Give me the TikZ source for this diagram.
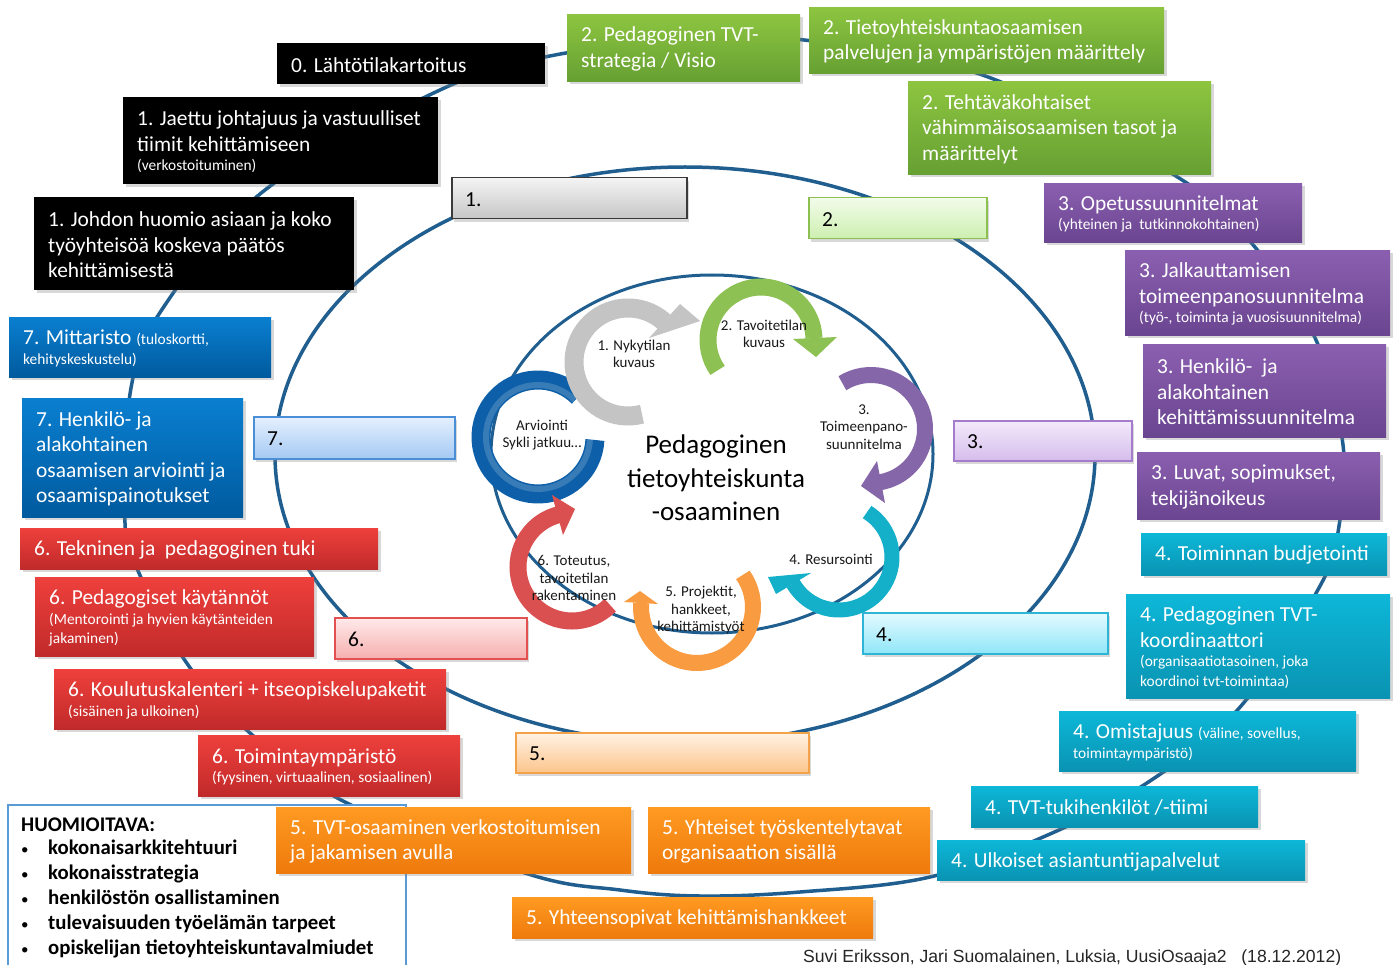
\documentclass[tikz,border=0pt]{standalone}
\usepackage{fontspec}
\setmainfont{Carlito}
\newfontfamily\footfont{Liberation Sans}
\usetikzlibrary{shadows,calc}
\definecolor{crv}{HTML}{1F5E8E}
\definecolor{grT}{HTML}{8DC540}\definecolor{grB}{HTML}{66A032}
\definecolor{puT}{HTML}{8B5FB0}\definecolor{puB}{HTML}{6A4590}
\definecolor{teT}{HTML}{0DB7D8}\definecolor{teB}{HTML}{0A93B2}
\definecolor{orT}{HTML}{FF9A22}\definecolor{orB}{HTML}{EE7A0C}
\definecolor{reT}{HTML}{EE403C}\definecolor{reB}{HTML}{C02A2A}
\definecolor{blT}{HTML}{0A7FD0}\definecolor{blB}{HTML}{005A9E}
\definecolor{cgray}{HTML}{C4C4C4}
\definecolor{cgreen}{HTML}{8DC153}
\definecolor{cpurple}{HTML}{8566A8}
\definecolor{cteal}{HTML}{14AFC8}
\definecolor{corange}{HTML}{F99B40}
\definecolor{cred}{HTML}{DA4F4F}
\definecolor{cblue}{HTML}{0C5FA8}
\newcommand\smallf{\fontsize{15.4}{18}\selectfont}
\newcommand\bul{\makebox[27pt][l]{\normalfont\fontsize{15}{15}\selectfont\raisebox{0.5pt}{•}}}
\newcommand\mkbox[8][white]{%
  \node[boxbase,#7,minimum width=#5pt,minimum height=#6pt] (#2) at (#3,#4) {};
  \node[boxtext,text=#1,anchor=west] (#2t) at ([xshift=14pt,yshift=-1.2pt]#2.west) {#8};}
\begin{document}
\begin{tikzpicture}[x=1pt,y=-1pt,
  boxbase/.style={anchor=north west, inner sep=0pt},
  shd/.style={drop shadow={opacity=0.3,shadow xshift=2.5pt,shadow yshift=-3pt}},
  boxtext/.style={inner sep=0pt, align=left, font=\fontsize{21.4}{25.5}\selectfont},
  blackbox/.style={fill=black, shd},
  greenbox/.style={top color=grT, bottom color=grB, shd},
  purplebox/.style={top color=puT, bottom color=puB, shd},
  tealbox/.style={top color=teT, bottom color=teB, shd},
  orangebox/.style={top color=orT, bottom color=orB, shd},
  redbox/.style={top color=reT, bottom color=reB, shd},
  bluebox/.style={top color=blT, bottom color=blB, shd},
  lbox/.style={line width=1.5pt, shd},
  lgray/.style={lbox, top color={rgb,255:red,244;green,244;blue,244}, bottom color={rgb,255:red,198;green,198;blue,198}, draw={rgb,255:red,58;green,58;blue,58}},
  lgreen/.style={lbox, top color={rgb,255:red,242;green,252;blue,234}, bottom color={rgb,255:red,205;green,239;blue,176}, draw={rgb,255:red,140;green,193;blue,82}},
  lpurple/.style={lbox, top color={rgb,255:red,243;green,234;blue,251}, bottom color={rgb,255:red,214;green,189;blue,236}, draw={rgb,255:red,165;green,124;blue,203}},
  lteal/.style={lbox, top color={rgb,255:red,228;green,250;blue,255}, bottom color={rgb,255:red,143;green,230;blue,248}, draw={rgb,255:red,46;green,181;blue,214}},
  lorange/.style={lbox, top color={rgb,255:red,255;green,242;blue,228}, bottom color={rgb,255:red,252;green,197;blue,140}, draw={rgb,255:red,244;green,162;blue,74}},
  lred/.style={lbox, top color={rgb,255:red,255;green,234;blue,234}, bottom color={rgb,255:red,246;green,175;blue,175}, draw={rgb,255:red,226;green,80;blue,79}},
  lblue/.style={lbox, top color={rgb,255:red,230;green,240;blue,255}, bottom color={rgb,255:red,164;green,201;blue,243}, draw={rgb,255:red,74;green,143;blue,214}},
  cyclab/.style={inner sep=0pt, align=center, text={rgb,255:red,25;green,25;blue,25}, font=\fontsize{15}{17.5}\selectfont},
]
\useasboundingbox (0,0) rectangle (1394,965);
\fill[white] (0,0) rectangle (1394,965);

% ---- curves ----
\draw[crv, line width=3.5pt] plot[smooth cycle, tension=0.6] coordinates {
 (680,43) (804,40) (988,77) (1179,178) (1254,246) (1316,340) (1343,445) (1339,526)
 (1320,586) (1241,706) (1153,779) (1050,834) (930,877) (800,892) (700,896) (620,890)
 (525,873) (345,802) (250,733) (186,662) (139,573) (125,523) (131,388) (165,305)
 (265,190) (440,90) (555,55)};
\draw[crv, line width=3.5pt] (685,455) ellipse[x radius=410, y radius=288];
\draw[crv, line width=3pt] (712,454) ellipse[x radius=221, y radius=179];

% ---- cycle arrows ----
\coordinate (cbl) at (538,437);
\coordinate (cg) at (628,362);
\coordinate (cgr) at (761,340);
\coordinate (cpu) at (871,429);
\coordinate (cte) at (839,557);
\coordinate (cor) at (697,607);
\coordinate (cre) at (572,567);
\draw[line width=19pt, cblue] ($(cbl)+(3:57)$) arc[start angle=3, end angle=315, radius=57];
\draw[line width=6pt, white, opacity=0.18] ($(cbl)+(3:52)$) arc[start angle=3, end angle=315, radius=52];
\draw[line width=19pt, cgray] ($(cg)+(75:54)$) arc[start angle=75, end angle=312, radius=54];
\fill[cgray] (680,304) -- (700,321) -- (649,338) -- cycle;
\draw[line width=17pt, cgreen] ($(cgr)+(145:53)$) arc[start angle=145, end angle=358, radius=53];
\fill[cgreen] (837,337) -- (816,357) -- (793,339) -- cycle;
\draw[line width=16pt, cpurple] ($(cpu)+(238:54)$) arc[start angle=238, end angle=440, radius=54];
\fill[cpurple] (885,503) -- (861,486) -- (877,461) -- cycle;
\draw[line width=15pt, cteal] ($(cte)+(302:53)$) arc[start angle=302, end angle=510, radius=53];
\fill[cteal] (776,594) -- (768,577) -- (811,573) -- cycle;
\draw[line width=16pt, corange] ($(cor)+(325:56)$) arc[start angle=325, end angle=544, radius=56];
\fill[corange] (624,602) -- (640,591) -- (658,604) -- cycle;
\draw[line width=17pt, cred] ($(cre)+(45:54)$) arc[start angle=45, end angle=255, radius=54];
\fill[cred] (552,495) -- (575,509) -- (563,535) -- cycle;

% ---- cycle labels ----
\node[cyclab] (c1) at (634,354) {1. Nykytilan\\kuvaus};
\node[cyclab] (c2) at (764,334) {2. Tavoitetilan\\kuvaus};
\node[cyclab] (c3) at (864,427) {3.\\Toimeenpano-\\suunnitelma};
\node[cyclab] (c4) at (831,559) {4. Resursointi};
\node[cyclab] (c5) at (701,610) {5. Projektit,\\hankkeet,\\kehittämistyöt};
\node[cyclab] (c6) at (574,578) {6. Toteutus,\\tavoitetilan\\rakentaminen};
\node[cyclab] (c7) at (542,435) {Arviointi\\Sykli jatkuu…};
\node[inner sep=0pt, align=center, font=\fontsize{27}{33.5}\selectfont] (center) at (716,478) {Pedagoginen\\tietoyhteiskunta\\-osaaminen};

% ---- light boxes ----
\mkbox[black]{lb1}{451}{177}{235}{41}{lgray}{1.}
\mkbox[black]{lb2}{808}{197}{178}{41}{lgreen}{2.}
\mkbox[black]{lb3}{953}{420}{178}{40}{lpurple}{3.}
\mkbox[black]{lb4}{862}{612}{245}{41}{lteal}{4.}
\mkbox[black]{lb5}{515}{732}{293}{40}{lorange}{5.}
\mkbox[black]{lb6}{334}{617}{192}{41}{lred}{6.}
\mkbox[black]{lb7}{253}{416}{201}{42}{lblue}{7.}

% ---- black ----
\mkbox{b0}{277}{43}{268}{41}{blackbox}{0. Lähtötilakartoitus}
\mkbox{b1}{123}{97}{315}{87}{blackbox}{1. Jaettu johtajuus ja vastuulliset\\tiimit kehittämiseen\\[-6pt]\smallf(verkostoituminen)}
\mkbox{b2}{34}{197}{320}{93}{blackbox}{1. Johdon huomio asiaan ja koko\\työyhteisöä koskeva päätös\\kehittämisestä}

% ---- green ----
\mkbox{g1}{567}{14}{233}{67}{greenbox}{2. Pedagoginen TVT-\\strategia / Visio}
\mkbox{g2}{809}{7}{355}{66}{greenbox}{2. Tietoyhteiskuntaosaamisen\\palvelujen ja ympäristöjen määrittely}
\mkbox{g3}{908}{81}{303}{93}{greenbox}{2. Tehtäväkohtaiset\\vähimmäisosaamisen tasot ja\\määrittelyt}

% ---- purple ----
\mkbox{p1}{1044}{183}{258}{59}{purplebox}{3. Opetussuunnitelmat\\[-6pt]\smallf(yhteinen ja\ \ tutkinnokohtainen)}
\mkbox{p2}{1125}{250}{265}{85}{purplebox}{3. Jalkauttamisen\\toimeenpanosuunnitelma\\[-6pt]\smallf(työ-, toiminta ja vuosisuunnitelma)}
\mkbox{p3}{1143}{344}{243}{93}{purplebox}{3. Henkilö-\ \ ja\\alakohtainen\\kehittämissuunnitelma}
\mkbox{p4}{1137}{452}{243}{67}{purplebox}{3. Luvat, sopimukset,\\tekijänoikeus}

% ---- teal ----
\mkbox{t1}{1141}{533}{246}{42}{tealbox}{4. Toiminnan budjetointi}
\mkbox{t2}{1126}{594}{264}{104}{tealbox}{4. Pedagoginen TVT-\\koordinaattori\\[-6pt]\smallf(organisaatiotasoinen, joka\\[-6pt]\smallf koordinoi tvt-toimintaa)}
\mkbox{t3}{1059}{711}{297}{60}{tealbox}{4. Omistajuus {\smallf(väline, sovellus,}\\[-6pt]\smallf toimintaympäristö)}
\mkbox{t4}{971}{786}{287}{41}{tealbox}{4. TVT-tukihenkilöt /-tiimi}
\mkbox{t5}{937}{840}{368}{40}{tealbox}{4. Ulkoiset asiantuntijapalvelut}

% ---- red ----
\mkbox{r1}{20}{528}{358}{41}{redbox}{6. Tekninen ja\ \ pedagoginen tuki}
\mkbox{r2}{35}{577}{279}{79}{redbox}{6. Pedagogiset käytännöt\\[-6pt]\smallf(Mentorointi ja hyvien käytänteiden\\[-6pt]\smallf jakaminen)}
\mkbox{r3}{54}{669}{392}{60}{redbox}{6. Koulutuskalenteri + itseopiskelupaketit\\[-6pt]\smallf(sisäinen ja ulkoinen)}
\mkbox{r4}{198}{735}{262}{61}{redbox}{6. Toimintaympäristö\\[-6pt]\smallf(fyysinen, virtuaalinen, sosiaalinen)}

% ---- blue ----
\mkbox{bl1}{9}{317}{262}{60}{bluebox}{7. Mittaristo {\smallf(tuloskortti,}\\[-6pt]\smallf kehityskeskustelu)}
\mkbox{bl2}{22}{398}{221}{119}{bluebox}{7. Henkilö- ja\\alakohtainen\\osaamisen arviointi ja\\osaamispainotukset}

% ---- HUOMIOITAVA ----
\node[anchor=north west, inner sep=0pt, minimum width=398pt, minimum height=175pt, fill=white, draw={rgb,255:red,91;green,155;blue,213}, line width=1.5pt] (huom) at (7,804) {};
\node[anchor=north west, inner sep=0pt, align=left, font=\bfseries\fontsize{20.8}{25}\selectfont] (huomt) at (21,818) {HUOMIOITAVA:\\[-2pt]
\bul kokonaisarkkitehtuuri\\
\bul kokonaisstrategia\\
\bul henkilöstön osallistaminen\\
\bul tulevaisuuden työelämän tarpeet\\
\bul opiskelijan tietoyhteiskuntavalmiudet};

% ---- orange ----
\mkbox{o1}{276}{807}{355}{66}{orangebox}{5. TVT-osaaminen verkostoitumisen\\ja jakamisen avulla}
\mkbox{o2}{648}{807}{282}{66}{orangebox}{5. Yhteiset työskentelytavat\\organisaation sisällä}
\mkbox{o3}{512}{897}{361}{41}{orangebox}{5. Yhteensopivat kehittämishankkeet}

% ---- footer ----
\node[anchor=base west, inner sep=0pt, font=\footfont\fontsize{17.6}{20}\selectfont, text=black!85] (foot) at (803,962) {Suvi Eriksson, Jari Suomalainen, Luksia, UusiOsaaja2\ \ \ (18.12.2012)};
\end{tikzpicture}
\end{document}
